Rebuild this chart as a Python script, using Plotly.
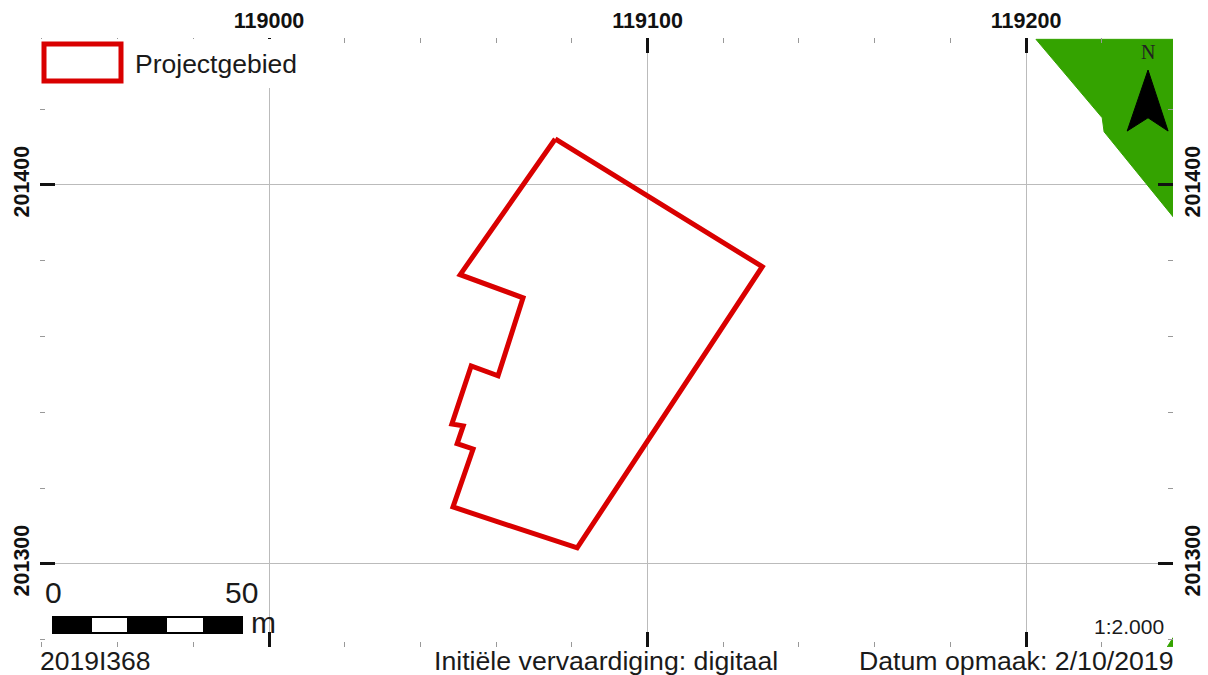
import plotly.graph_objects as go

# map data in RD coordinates
gebied_x = [119075.6, 119130.3, 119081.4, 119048.6, 119053.9, 119049.7, 119051.3,
            119048.3, 119053.4, 119060.5, 119067.1, 119050.5, 119075.6]
gebied_y = [201412.1, 201378.4, 201304.2, 201315.0, 201330.3, 201331.7, 201336.4,
            201336.9, 201352.2, 201349.6, 201370.2, 201376.3, 201412.1]
groen_x = [119202.6, 119220.1, 119220.6, 119238.8, 119238.8, 119202.6]
groen_y = [201438.4, 201417.7, 201414.0, 201391.6, 201438.4, 201438.4]
groen2_x = [119237.3, 119238.8, 119238.8, 119237.3]
groen2_y = [201278.1, 201280.5, 201278.1, 201278.1]
noord_x = [119232.2, 119237.5, 119232.2, 119226.7, 119232.2]
noord_y = [201430.3, 201414.2, 201417.7, 201414.2, 201430.3]
x_ticks = [119000, 119100, 119200]
y_ticks = [201300, 201400]
x_range = [118939.5, 119238.8]
y_range = [201278.05, 201438.75]

RED = "#D90000"
GREEN = "#34A300"
W, H = 1208, 675
L, R, T, B = 40, 1173, 38, 647


def px(v):
    return (v - L) / (R - L)


def py(v):
    return 1 - (v - T) / (B - T)


fig = go.Figure()
fig.add_trace(go.Scatter(x=gebied_x, y=gebied_y, mode="lines", name="Projectgebied",
                         line=dict(color=RED, width=5), hoverinfo="skip"))
fig.add_trace(go.Scatter(x=groen_x, y=groen_y, yaxis="y2", mode="lines", fill="toself",
                         fillcolor=GREEN, line=dict(color=GREEN, width=1), hoverinfo="skip"))
fig.add_trace(go.Scatter(x=groen2_x, y=groen2_y, yaxis="y2", mode="lines", fill="toself",
                         fillcolor=GREEN, line=dict(color=GREEN, width=1), hoverinfo="skip"))
fig.add_trace(go.Scatter(x=noord_x, y=noord_y, yaxis="y2", mode="lines", fill="toself",
                         fillcolor="black", line=dict(color="black", width=1), hoverinfo="skip"))

tickfont = dict(family="Liberation Sans", size=21.5, color="#111111", weight="bold")
minor = dict(dtick=20, ticks="inside", ticklen=5, tickwidth=1, tickcolor="#999999", showgrid=False)

fig.update_layout(
    width=W, height=H, showlegend=False,
    paper_bgcolor="white", plot_bgcolor="white",
    margin=dict(l=L, r=W - R, t=T, b=H - B, pad=0, autoexpand=False),
    xaxis=dict(range=x_range, side="top", tickvals=x_ticks, tickformat="d",
               showgrid=True, gridcolor="#BBBBBB", gridwidth=1, zeroline=False,
               ticks="inside", ticklen=15, tickwidth=3, tickcolor="#111111",
               showline=True, linecolor="rgba(0,0,0,0)", mirror="ticks",
               tickfont=tickfont, minor=dict(tick0=119000, **minor)),
    yaxis=dict(range=y_range, side="right", tickvals=y_ticks, tickformat="d", tickangle=-90,
               showgrid=True, gridcolor="#BBBBBB", gridwidth=1, zeroline=False,
               ticks="inside", ticklen=15, tickwidth=3, tickcolor="#111111",
               showline=True, linecolor="rgba(0,0,0,0)", mirror="ticks",
               tickfont=tickfont, minor=dict(tick0=201300, **minor)),
    yaxis2=dict(range=y_range, overlaying="y", side="left", tickvals=y_ticks, tickformat="d",
                tickangle=-90, showgrid=False, zeroline=False, ticks="", tickfont=tickfont,
                ticklabelstandoff=6),
)

shapes = [
    # legend background hides the grid and tick behind it
    dict(type="rect", xref="paper", yref="paper", x0=px(40), x1=px(300), y0=py(88), y1=py(39),
         fillcolor="white", line_width=0, layer="above"),
    dict(type="rect", xref="paper", yref="paper", x0=px(44), x1=px(121), y0=py(81), y1=py(44),
         fillcolor="white", line=dict(color=RED, width=5), layer="above"),
    # scale bar
    dict(type="rect", xref="paper", yref="paper", x0=px(52), x1=px(243), y0=py(634), y1=py(616),
         fillcolor="black", line_width=0, layer="above"),
    dict(type="rect", xref="paper", yref="paper", x0=px(92), x1=px(127), y0=py(632), y1=py(618),
         fillcolor="white", line_width=0, layer="above"),
    dict(type="rect", xref="paper", yref="paper", x0=px(167), x1=px(203), y0=py(632), y1=py(618),
         fillcolor="white", line_width=0, layer="above"),
]
fig.update_layout(shapes=shapes)


def label(text, x, y, size, anchor="center", family="Liberation Sans", color="#1A1A1A"):
    fig.add_annotation(text=text, x=px(x), y=py(y), xref="paper", yref="paper", showarrow=False,
                       xanchor=anchor, yanchor="middle", font=dict(family=family, size=size, color=color))


label("Projectgebied", 133, 64, 26.5, "left")
label("0", 53, 592, 30)
label("50", 241, 592, 30)
label("m", 263, 622, 30)
label("N", 1148, 52, 20, family="Liberation Serif", color="#222222")
label("1:2.000", 1166, 626, 21, "right")
label("2019I368", 38, 661, 26.5, "left")
label("Initiële vervaardiging: digitaal", 606, 661, 26.7)
label("Datum opmaak: 2/10/2019", 1176, 661, 26.7, "right")

fig.write_html("out.html", config=dict(displayModeBar=False),
               post_script="document.body.style.margin='0';document.body.style.overflow='hidden';")
